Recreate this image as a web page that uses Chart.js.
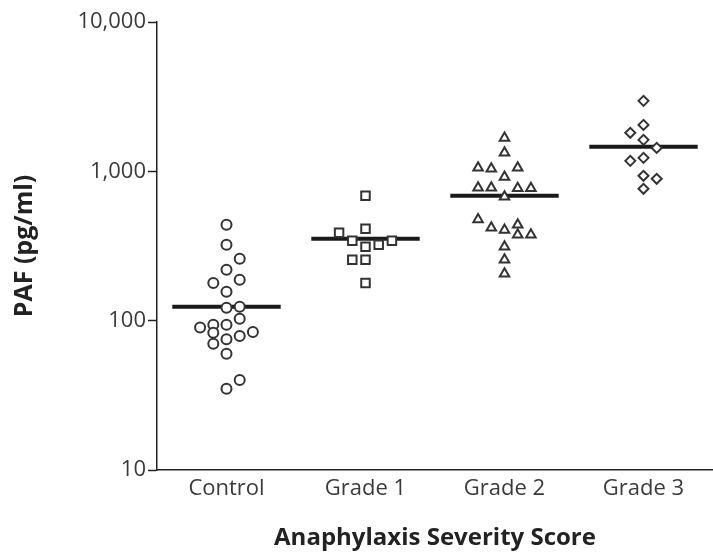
<!DOCTYPE html>
<html>
<head>
<meta charset="utf-8">
<script src="https://cdn.jsdelivr.net/npm/chart.js@4"></script>
<style>
  body { margin: 0; background: #fff; }
  #wrap { width: 713px; height: 553px; }
</style>
</head>
<body>
<div id="wrap"><canvas id="pafChart" width="713" height="553"></canvas></div>
<script>
const categories = ['Control', 'Grade 1', 'Grade 2', 'Grade 3'];
const yTicks = [10, 100, 1000, 10000];

// PAF values (pg/ml), with the column each dot sits in
const controlValues = [439, 322, 260, 219, 179, 188, 156, 122, 124, 94, 90, 94, 103, 83, 84, 79, 75, 70, 60, 40, 35];
const controlCols   = [0, 0, 1, 0, -1, 1, 0, 0, 1, -1, -2, 0, 1, -1, 2, 1, 0, -1, 0, 1, 0];
const grade1Values  = [686, 388, 412, 343, 313, 322, 343, 256, 256, 179];
const grade1Cols    = [0, -2, 0, -1, 0, 1, 2, -1, 0, 0];
const grade2Values  = [1675, 1330, 1055, 1040, 1055, 918, 776, 776, 770, 770, 675, 475, 419, 405, 439, 376, 376, 313, 256, 206];
const grade2Cols    = [0, 0, -2, -1, 1, 0, -2, -1, 1, 2, 0, -2, -1, 0, 1, 1, 2, 0, 0, 0];
const grade3Values  = [2965, 2046, 1811, 1625, 1435, 1175, 1231, 933, 891, 764];
const grade3Cols    = [0, 0, -1, 0, 1, -1, 0, 0, 1, 0];
const medians       = [124, 353, 686, 1459];

const colStep = 0.095;
const halfLine = 0.39;

function toPoints(values, cols, group) {
  return values.map((v, i) => ({ x: group + cols[i] * colStep, y: v }));
}

const dotStyle = {
  backgroundColor: '#fff',
  borderColor: '#333',
  borderWidth: 2,
  showLine: false
};

const datasets = [
  Object.assign({ data: toPoints(controlValues, controlCols, 1), pointStyle: 'circle', pointRadius: 5 }, dotStyle),
  Object.assign({ data: toPoints(grade1Values, grade1Cols, 2), pointStyle: 'rect', pointRadius: 6 }, dotStyle),
  Object.assign({ data: toPoints(grade2Values, grade2Cols, 3), pointStyle: 'triangle', pointRadius: 5.5 }, dotStyle),
  Object.assign({ data: toPoints(grade3Values, grade3Cols, 4), pointStyle: 'rectRot', pointRadius: 5 }, dotStyle)
];

medians.forEach((m, i) => {
  datasets.push({
    type: 'line',
    data: [{ x: i + 1 - halfLine, y: m }, { x: i + 1 + halfLine, y: m }],
    borderColor: '#1a1a1a',
    borderWidth: 4,
    pointRadius: 0,
    showLine: true
  });
});

const tickFont = { family: 'Open Sans', size: 22 };

new Chart(document.getElementById('pafChart').getContext('2d'), {
  type: 'scatter',
  data: { datasets },
  options: {
    responsive: false,
    animation: false,
    layout: { autoPadding: false, padding: { top: 22, right: 0, left: 0, bottom: 0 } },
    plugins: { legend: { display: false }, tooltip: { enabled: false } },
    scales: {
      x: {
        type: 'linear',
        min: 0.5,
        max: 4.5,
        afterBuildTicks: s => { s.ticks = categories.map((c, i) => ({ value: i + 1 })); },
        afterFit: s => { s.height = 83; s.paddingLeft = 0; s.paddingRight = 0; },
        ticks: {
          callback: v => categories[Math.round(v) - 1],
          color: '#3a3a3a',
          font: tickFont,
          padding: 6
        },
        grid: { drawOnChartArea: false, drawTicks: false },
        border: { color: '#222', width: 1.5 },
        title: {
          display: true,
          text: 'Anaphylaxis Severity Score',
          color: '#222',
          font: { family: 'Open Sans', size: 24, weight: 'bold' },
          padding: { top: 0, bottom: 0 }
        }
      },
      y: {
        type: 'logarithmic',
        min: 10,
        max: 10000,
        afterBuildTicks: s => { s.ticks = yTicks.map(v => ({ value: v })); },
        afterFit: s => { s.width = 157; },
        ticks: {
          callback: v => v.toLocaleString('en-US'),
          color: '#3a3a3a',
          font: tickFont,
          padding: 2
        },
        grid: { drawOnChartArea: false, drawTicks: true, tickLength: 9, color: '#222', tickWidth: 1.5 },
        border: { color: '#222', width: 1.5 },
        title: {
          display: true,
          text: 'PAF (pg/ml)',
          color: '#222',
          font: { family: 'Open Sans', size: 25, weight: 'bold' },
          padding: { top: 10, bottom: 0 }
        }
      }
    }
  }
});
</script>
</body>
</html>
